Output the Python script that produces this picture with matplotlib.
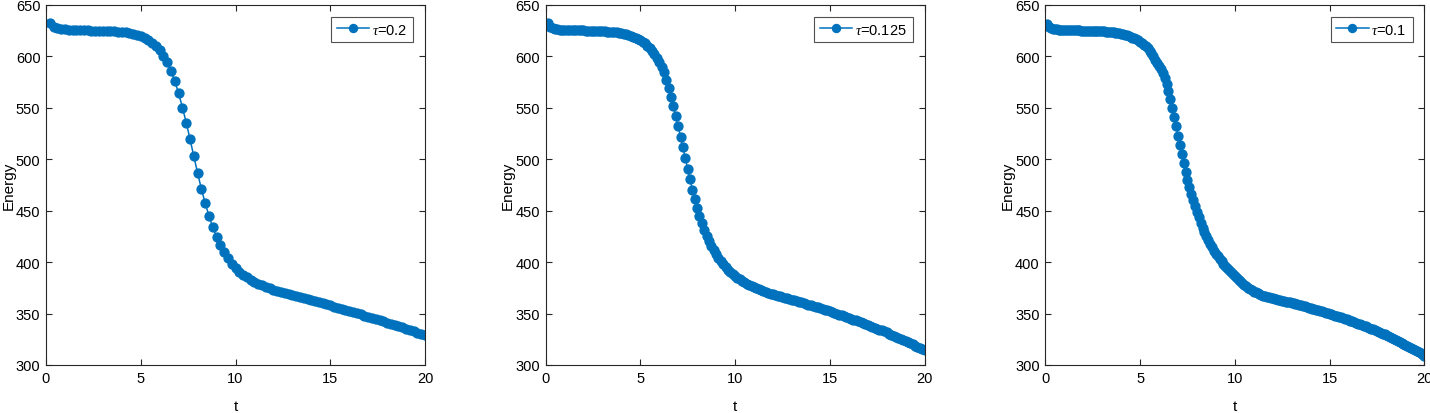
import numpy as np
import matplotlib
matplotlib.use("Agg")
import matplotlib.pyplot as plt

plt.rcParams['font.family'] = ['Liberation Sans', 'DejaVu Sans']
plt.rcParams['mathtext.fontset'] = 'custom'
plt.rcParams['mathtext.it'] = 'Liberation Serif:italic'

# time steps
taus = [0.2, 0.125, 0.1]
tau_labels = [r'$\tau$=0.2', r'$\tau$=0.125', r'$\tau$=0.1']

# energy, tau = 0.2  (t = 0.2, 0.4, ..., 20)
energy_02 = [
    632.5, 628.5, 627.2, 626.6, 626.2, 625.9, 625.7, 625.6, 625.5, 625.4,
    625.3, 625.2, 625.1, 625.0, 624.9, 624.7, 624.5, 624.3, 624.1, 623.8,
    623.3, 622.7, 621.9, 620.9, 619.6, 618.0, 616.0, 613.5, 610.3, 606.0,
    600.7, 594.3, 585.6, 575.9, 564.0, 550.3, 535.6, 519.7, 502.9, 486.7,
    471.1, 457.5, 444.9, 433.9, 424.7, 417.0, 409.6, 403.6, 398.6, 394.3,
    390.7, 387.7, 385.2, 383.0, 381.0, 379.2, 377.5, 376.0, 374.6, 373.3,
    372.1, 371.0, 369.9, 368.9, 367.9, 366.9, 365.9, 364.9, 363.9, 362.9,
    361.9, 360.9, 359.9, 358.9, 357.9, 356.8, 355.7, 354.6, 353.5, 352.4,
    351.3, 350.2, 349.1, 348.0, 346.9, 345.8, 344.7, 343.6, 342.5, 341.3,
    340.1, 338.9, 337.7, 336.5, 335.2, 333.9, 332.6, 331.3, 330.0, 328.7,
]

# energy, tau = 0.125  (t = 0.125, 0.25, ..., 20)
energy_0125 = [
    632.2, 628.4, 627.2, 626.6, 626.2, 626.0, 625.8, 625.7,
    625.6, 625.6, 625.5, 625.5, 625.4, 625.4, 625.3, 625.3,
    625.2, 625.1, 625.1, 625.0, 624.9, 624.8, 624.7, 624.5,
    624.4, 624.2, 624.1, 623.9, 623.7, 623.4, 623.0, 622.6,
    622.1, 621.6, 620.9, 620.1, 619.2, 618.2, 617.0, 615.8,
    614.3, 612.6, 610.6, 608.3, 605.6, 602.3, 598.6, 594.5,
    590.0, 584.6, 577.5, 569.5, 560.8, 551.5, 541.8, 532.0,
    522.0, 511.5, 501.0, 490.6, 480.4, 470.6, 461.4, 452.9,
    445.2, 437.8, 431.3, 425.5, 420.3, 415.6, 411.4, 407.6,
    404.3, 401.0, 398.0, 395.3, 392.8, 390.5, 388.4, 386.5,
    384.8, 383.2, 381.7, 380.3, 379.0, 377.8, 376.7, 375.6,
    374.6, 373.6, 372.7, 371.8, 371.0, 370.2, 369.4, 368.7,
    368.0, 367.3, 366.6, 365.9, 365.3, 364.7, 364.1, 363.5,
    362.9, 362.3, 361.6, 360.9, 360.2, 359.5, 358.8, 358.1,
    357.4, 356.7, 356.0, 355.3, 354.5, 353.8, 353.0, 352.2,
    351.4, 350.6, 349.8, 349.0, 348.2, 347.4, 346.6, 345.8,
    345.0, 344.2, 343.4, 342.6, 341.7, 340.8, 339.9, 339.0,
    338.1, 337.2, 336.3, 335.4, 334.5, 333.6, 332.6, 331.6,
    330.6, 329.6, 328.6, 327.6, 326.5, 325.4, 324.3, 323.2,
    322.2, 321.1, 320.0, 318.9, 317.8, 316.7, 315.6, 314.5,
]

# energy, tau = 0.1  (t = 0.1, 0.2, ..., 20)
energy_01 = [
    632.0, 628.8, 627.5, 626.9, 626.5, 626.2, 626.0, 625.9, 625.8, 625.7,
    625.6, 625.6, 625.5, 625.5, 625.4, 625.4, 625.3, 625.3, 625.2, 625.2,
    625.2, 625.1, 625.0, 625.0, 624.9, 624.8, 624.7, 624.6, 624.5, 624.4,
    624.3, 624.1, 624.0, 623.8, 623.6, 623.4, 623.1, 622.8, 622.5, 622.1,
    621.7, 621.2, 620.6, 620.0, 619.2, 618.4, 617.5, 616.6, 615.6, 614.4,
    613.0, 611.5, 609.8, 607.9, 605.7, 603.1, 600.2, 597.0, 594.0, 591.0,
    587.5, 583.5, 578.8, 573.0, 566.2, 558.6, 550.3, 541.5, 532.3, 523.0,
    513.8, 504.8, 496.2, 488.0, 480.3, 473.1, 466.4, 460.2, 454.4, 449.0,
    443.5, 438.3, 433.5, 429.1, 425.0, 421.2, 417.7, 414.4, 411.3, 408.4,
    405.7, 403.1, 400.7, 398.4, 396.2, 394.1, 392.1, 390.2, 388.4, 386.6,
    384.8, 383.0, 381.2, 379.5, 377.9, 376.4, 375.0, 373.7, 372.5, 371.4,
    370.5, 369.7, 368.9, 368.2, 367.5, 366.9, 366.3, 365.8, 365.3, 364.8,
    364.4, 364.0, 363.5, 363.1, 362.6, 362.2, 361.7, 361.3, 360.8, 360.4,
    359.9, 359.4, 358.9, 358.4, 357.9, 357.4, 356.9, 356.4, 355.9, 355.4,
    354.9, 354.4, 353.8, 353.3, 352.7, 352.2, 351.6, 351.0, 350.4, 349.8,
    349.2, 348.6, 348.0, 347.4, 346.8, 346.2, 345.6, 344.9, 344.3, 343.7,
    343.0, 342.4, 341.7, 341.0, 340.3, 339.6, 338.9, 338.2, 337.5, 336.8,
    336.1, 335.3, 334.6, 333.8, 333.0, 332.2, 331.4, 330.6, 329.8, 328.9,
    328.1, 327.2, 326.3, 325.4, 324.5, 323.5, 322.5, 321.5, 320.5, 319.5,
    318.5, 317.5, 316.5, 315.5, 314.5, 313.5, 312.5, 311.4, 310.3, 309.2,
]

energies = [energy_02, energy_0125, energy_01]

xticks = [0, 5, 10, 15, 20]
yticks = [300, 350, 400, 450, 500, 550, 600, 650]

W, H = 1430, 414
fig = plt.figure(figsize=(W / 100, H / 100), dpi=100)

lefts = [46, 545.5, 1045.3]
ax_w = 379
ax_top, ax_bot = 6, 366
line_color = '#0072BD'
axis_color = '#262626'

for left, tau, lab, energy in zip(lefts, taus, tau_labels, energies):
    ax = fig.add_axes([left / W, 1 - ax_bot / H, ax_w / W, (ax_bot - ax_top) / H])
    t = tau * np.arange(1, len(energy) + 1)
    ax.plot(t, energy, '-o', color=line_color, markersize=6.4, linewidth=1.1,
            markerfacecolor=line_color, markeredgecolor=line_color, label=lab)
    ax.set_xlim(0, 20)
    ax.set_ylim(300, 650)
    ax.set_xticks(xticks)
    ax.set_yticks(yticks)
    ax.tick_params(direction='in', length=4, width=0.8, top=True, right=True,
                   labelsize=10.5, colors=axis_color, pad=4, labelcolor='black')
    for sp in ax.spines.values():
        sp.set_color(axis_color)
        sp.set_linewidth(0.8)
    ax.set_xlabel('t', fontsize=11)
    ax.xaxis.set_label_coords(0.5, -0.095)
    ax.set_ylabel('Energy', fontsize=11)
    ax.yaxis.set_label_coords(-0.08, 0.5)
    leg = ax.legend(loc='upper right', fontsize=10.5, frameon=True, fancybox=False,
                    handlelength=2.2, handletextpad=0.2, borderpad=0.4,
                    borderaxespad=0.8, markerscale=0.9)
    leg.get_frame().set_edgecolor(axis_color)
    leg.get_frame().set_linewidth(0.8)

fig.savefig('out.png', dpi=100)
